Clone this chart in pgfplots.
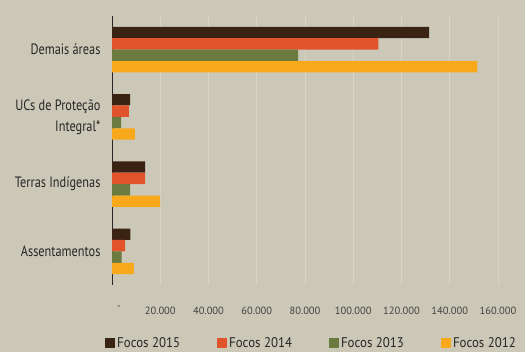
\documentclass[border=0pt]{standalone}
\usepackage{fontspec}
\setmainfont[FakeStretch=0.82]{PT Sans}
\newfontfamily\legfont[FakeStretch=0.92]{PT Sans}
\newfontfamily\tickfont{PT Sans}
\usepackage{pgfplots}
\pgfplotsset{compat=1.18}
\definecolor{bg}{HTML}{CCC8B8}
\definecolor{gridc}{HTML}{D7D3C5}
\definecolor{c15}{HTML}{3B2314}
\definecolor{c14}{HTML}{E0532B}
\definecolor{c13}{HTML}{6B7B3F}
\definecolor{c12}{HTML}{F7A81B}
\definecolor{txt}{HTML}{262626}
\definecolor{ticktxt}{HTML}{404040}
\begin{document}
\begin{tikzpicture}[x=1pt,y=1pt]
\useasboundingbox (0,0) rectangle (525,352);
\fill[bg] (0,0) rectangle (525,352);
\begin{axis}[
  at={(112pt,67pt)}, anchor=south west,
  scale only axis, width=386pt, height=269pt,
  xmin=0, xmax=160000, ymin=-0.5, ymax=3.5,
  scaled x ticks=false,
  axis lines=left,
  axis line style={-},
  x axis line style={draw=none},
  y axis line style={draw=txt, line width=0.9pt},
  major tick length=0pt,
  xtick={0,20000,40000,60000,80000,100000,120000,140000,160000},
  xticklabels={\hspace*{14pt}-,20.000,40.000,60.000,80.000,100.000,120.000,140.000,160.000},
  xticklabel style={font=\tickfont\fontsize{10.5}{12}\selectfont, text=ticktxt, yshift=-18pt},
  xmajorgrids, grid style={draw=gridc, line width=1pt},
  ytick={0,1,2,3},
  yticklabels={Assentamentos, Terras Indígenas, {UCs de Proteção\\Integral*}, Demais áreas},
  yticklabel style={align=right, font=\fontsize{15}{21}\selectfont, text=txt, xshift=-8pt},
  bar width=0.17,
  legend columns=4,
  legend cell align=left,
  legend image code/.code={\fill[#1] (0pt,-5pt) rectangle (10pt,5pt);},
  legend style={at={(-0.018,-0.2156)}, anchor=west, draw=none, fill=none,
    font=\legfont\fontsize{14}{16}\selectfont, text=txt, inner sep=0pt,
    /tikz/every even column/.append style={column sep=35pt}},
]
\addplot[xbar, fill=c15, draw=none, bar shift=0.255] coordinates {(7600,0) (13700,1) (7500,2) (131500,3)};
\addplot[xbar, fill=c14, draw=none, bar shift=0.085] coordinates {(5400,0) (13700,1) (7000,2) (110400,3)};
\addplot[xbar, fill=c13, draw=none, bar shift=-0.085] coordinates {(4000,0) (7500,1) (3800,2) (77200,3)};
\addplot[xbar, fill=c12, draw=none, bar shift=-0.255] coordinates {(9100,0) (19900,1) (9500,2) (151400,3)};
\legend{Focos 2015, Focos 2014, Focos 2013, Focos 2012}
\end{axis}
\end{tikzpicture}
\end{document}
